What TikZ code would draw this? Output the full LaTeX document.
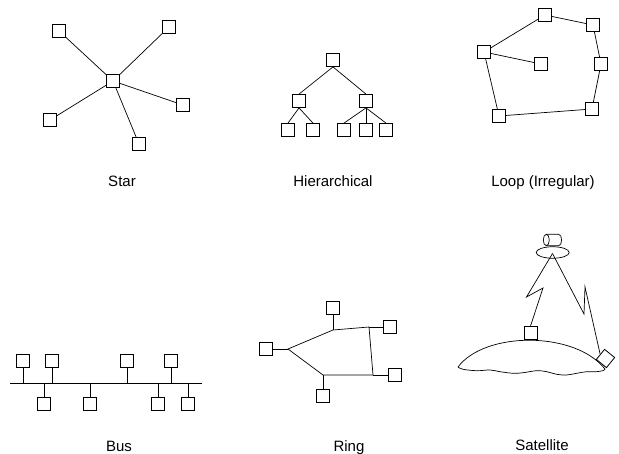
\documentclass[tikz,border=0pt]{standalone}
\usepackage{fontspec}
\setmainfont{Liberation Sans}
\usetikzlibrary{shapes.geometric}
\tikzset{
  station/.style={draw=black, line width=0.8pt, fill=white,
                  minimum size=13pt, inner sep=0pt},
  link/.style={black, line width=0.7pt},
  caption/.style={font=\fontsize{15}{18}\selectfont, anchor=base},
}

\begin{document}
\begin{tikzpicture}[x=1pt,y=-1pt]
  \path[use as bounding box] (0,0) rectangle (619,454);

  % Star: every station wired to the hub
  \node[station] (SC) at (113,81) {};
  \node[station] (S1) at (59,31) {};
  \node[station] (S2) at (169,27) {};
  \node[station] (S3) at (183,105) {};
  \node[station] (S4) at (139,144) {};
  \node[station] (S5) at (50,120) {};
  \foreach \n in {S1,S2,S3,S4,S5}
    \draw[link] (SC) -- (\n);
  \node[caption] (starlab) at (122,187) {Star};

  % Hierarchical: a small tree
  \node[station] (H0) at (333,60) {};
  \node[station] (H1) at (299,101) {};
  \node[station] (H2) at (366,101) {};
  \node[station] (H11) at (288,130) {};
  \node[station] (H12) at (313,130) {};
  \node[station] (H21) at (344,130) {};
  \node[station] (H22) at (366,130) {};
  \node[station] (H23) at (386,130) {};
  \draw[link] (H0.south) -- (H1.north);
  \draw[link] (H0.south) -- (H2.north);
  \foreach \n in {H11,H12}
    \draw[link] (H1.south) -- (\n.north);
  \foreach \n in {H21,H22,H23}
    \draw[link] (H2.south) -- (\n.north);
  \node[caption] (hierlab) at (333,187) {Hierarchical};

  % Loop with one spur
  \node[station] (L1) at (484,52) {};
  \node[station] (L2) at (545,15) {};
  \node[station] (L3) at (593,25) {};
  \node[station] (L4) at (601,64) {};
  \node[station] (L5) at (592,109) {};
  \node[station] (L6) at (499,116) {};
  \node[station] (L7) at (541,64) {};
  \draw[link] (L1) -- (L2) -- (L3) -- (L4) -- (L5) -- (L6) -- (L1);
  \draw[link] (L1) -- (L7);
  \node[caption] (looplab) at (543,187) {Loop (Irregular)};

  % Bus: taps above and below one line
  \coordinate (busW) at (10,383);
  \coordinate (busE) at (202,383);
  \draw[link] (busW) -- (busE);
  \node[station] (B1) at (23,361) {};
  \node[station] (B2) at (52,361) {};
  \node[station] (B3) at (127,361) {};
  \node[station] (B4) at (171,361) {};
  \node[station] (B5) at (44,404) {};
  \node[station] (B6) at (90,404) {};
  \node[station] (B7) at (158,404) {};
  \node[station] (B8) at (188,404) {};
  \foreach \n in {B1,B2,B3,B4,B5,B6,B7,B8}
    \draw[link] (\n) -- (\n |- busW);
  \node[caption] (buslab) at (119,452) {Bus};

  % Ring: closed cable, stations on stubs
  \coordinate (J1) at (288,349);
  \coordinate (J2) at (333,330);
  \coordinate (J3) at (369,327);
  \coordinate (J4) at (373,375);
  \coordinate (J5) at (323,375);
  \draw[link] (J1) -- (J2) -- (J3) -- (J4) -- (J5) -- cycle;
  \node[station] (R1) at (266,349) {};
  \node[station] (R2) at (333,308) {};
  \node[station] (R3) at (390,327) {};
  \node[station] (R4) at (395,375) {};
  \node[station] (R5) at (323,396) {};
  \draw[link] (R1) -- (J1);
  \draw[link] (R2) -- (J2);
  \draw[link] (R3) -- (J3);
  \draw[link] (R4) -- (J4);
  \draw[link] (R5) -- (J5);
  \node[caption] (ringlab) at (349,452) {Ring};

  % Satellite: body, dish, two hops down to the ground
  \draw[link] (546.3,234.3) -- (558.7,234.3)
    .. controls (562.5,234.3) and (562.5,245.7) .. (558.7,245.7) -- (546.3,245.7);
  \draw[link] (546.3,240) ellipse [x radius=3, y radius=5.7];
  \node[draw=black, line width=0.7pt, ellipse, minimum width=33pt,
        minimum height=11.5pt, inner sep=0pt] (dish) at (552.7,252.5) {};

  \draw[link] (458,367) .. controls (485,331) and (575,331) .. (605,369);
  \draw[link] plot[smooth, tension=0.6] coordinates {
    (458,367) (463,369.3) (476.7,370.7) (490,370) (500,371.7) (513.3,373.3)
    (523.3,372.7) (536.7,370.7) (546.7,371.7) (556.7,374.3) (566.7,375)
    (576.7,373.3) (586.7,371.7) (596.7,371.7) (603.3,370.5) (605,369)};

  \node[station] (G1) at (530.5,333) {};
  \node[station, rotate=51] (G2) at (605.5,358.5) {};

  \coordinate (beam) at (552.5,253.5);
  \coordinate (zl1) at (526.5,297);
  \coordinate (zl2) at (543,288);
  \coordinate (zr1) at (584,314);
  \coordinate (zr2) at (585,287);
  \draw[link] (beam) -- (zl1) -- (zl2) -- (G1.north);
  \draw[link] (beam) -- (zr1) -- (zr2) -- (G2.north);
  \node[caption] (satlab) at (542,450) {Satellite};
\end{tikzpicture}
\end{document}
